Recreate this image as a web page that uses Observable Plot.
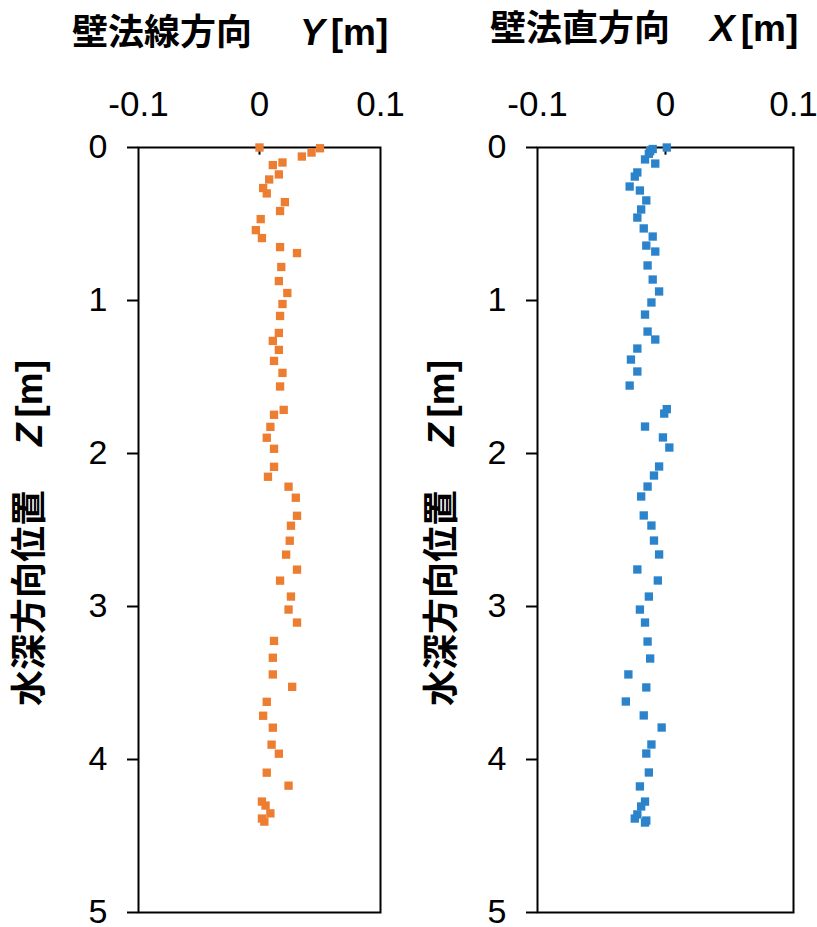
<!DOCTYPE html>
<html>
<head>
<meta charset="utf-8">
<script src="https://cdn.jsdelivr.net/npm/d3@7"></script>
<script src="https://cdn.jsdelivr.net/npm/@observablehq/plot@0.6"></script>
<style>
  html, body { margin: 0; padding: 0; background: #fff; }
  #wrap { position: relative; width: 817px; height: 927px; overflow: hidden; background: #fff; }
  .plot { position: absolute; top: 0; }
  .plot svg { overflow: visible; }
  .title { position: absolute; white-space: nowrap; font-family: "Noto Sans CJK JP", sans-serif; font-weight: bold; font-size: 36px; line-height: 38px; color: #000; }
  .lat { font-family: "Liberation Sans", Arial, sans-serif; font-weight: bold; font-size: 37px; }
  .ylab { position: absolute; white-space: nowrap; font-family: "Noto Sans CJK JP", sans-serif; font-weight: bold; font-size: 36px; line-height: 38px; transform: translate(-50%, -50%) rotate(-90deg); }
</style>
</head>
<body>
<div id="wrap">
  <div class="title" style="left:72px; top:10px;">壁法線方向<span class="lat" style="font-style:italic; margin-left:48px;">Y</span><span class="lat" style="margin-left:6px;">[m]</span></div>
  <div class="title" style="left:490px; top:6px;">壁法直方向<span class="lat" style="font-style:italic; margin-left:40px;">X</span><span class="lat" style="margin-left:6px;">[m]</span></div>
  <div class="ylab" style="left:28px; top:533px;">水深方向位置<span class="lat" style="font-style:italic; margin-left:44px;">Z</span><span class="lat" style="margin-left:6px;">[m]</span></div>
  <div class="ylab" style="left:440px; top:533px;">水深方向位置<span class="lat" style="font-style:italic; margin-left:44px;">Z</span><span class="lat" style="margin-left:6px;">[m]</span></div>
  <div id="left" class="plot" style="left:0px;"></div>
  <div id="right" class="plot" style="left:410px;"></div>
</div>
<script>
// Tick values
const xTicks = [-0.1, 0, 0.1];
const zTicks = [0, 1, 2, 3, 4, 5];

// Left panel: wall-normal direction Y [m] vs depth Z [m]
const leftZ = [0, 0.005, 0.033, 0.059, 0.098, 0.115, 0.176, 0.209, 0.265, 0.300,
  0.357, 0.415, 0.468, 0.540, 0.592, 0.651, 0.690, 0.781, 0.873, 0.951,
  1.023, 1.101, 1.212, 1.264, 1.323, 1.395, 1.473, 1.562,
  1.715, 1.747, 1.826, 1.897, 1.969, 2.087, 2.152, 2.217, 2.289, 2.407,
  2.472, 2.570, 2.661, 2.759, 2.831, 2.935, 3.020, 3.105,
  3.225, 3.335, 3.444, 3.525, 3.623, 3.714, 3.792, 3.903, 3.962, 4.086,
  4.171, 4.275, 4.301, 4.352, 4.386, 4.406];
const leftY = [0, 0.050, 0.043, 0.035, 0.019, 0.011, 0.016, 0.008, 0.003, 0.006,
  0.021, 0.017, 0.001, -0.003, 0.002, 0.017, 0.031, 0.018, 0.016, 0.023,
  0.019, 0.017, 0.016, 0.011, 0.016, 0.012, 0.019, 0.017,
  0.020, 0.012, 0.009, 0.006, 0.012, 0.012, 0.007, 0.024, 0.030, 0.031,
  0.026, 0.025, 0.022, 0.031, 0.017, 0.026, 0.024, 0.031,
  0.012, 0.011, 0.011, 0.027, 0.006, 0.003, 0.011, 0.010, 0.016, 0.006,
  0.024, 0.002, 0.005, 0.009, 0.002, 0.004];

// Right panel: wall-perpendicular direction X [m] vs depth Z [m]
const rightZ = [0, 0.010, 0.024, 0.041, 0.078, 0.105, 0.163, 0.190, 0.255, 0.281,
  0.346, 0.405, 0.458, 0.529, 0.582, 0.641, 0.680, 0.771, 0.863, 0.941,
  1.013, 1.092, 1.203, 1.255, 1.314, 1.386, 1.464, 1.556,
  1.710, 1.739, 1.824, 1.895, 1.961, 2.085, 2.144, 2.216, 2.281, 2.405,
  2.471, 2.569, 2.660, 2.758, 2.830, 2.935, 3.020, 3.105,
  3.229, 3.340, 3.444, 3.529, 3.621, 3.712, 3.791, 3.902, 3.961, 4.085,
  4.176, 4.275, 4.307, 4.359, 4.386, 4.399, 4.412];
const rightX = [0.001, -0.010, -0.012, -0.013, -0.016, -0.008, -0.022, -0.024, -0.028, -0.020,
  -0.015, -0.019, -0.022, -0.017, -0.010, -0.015, -0.008, -0.014, -0.010, -0.005,
  -0.011, -0.016, -0.014, -0.008, -0.022, -0.027, -0.022, -0.028,
  0.001, -0.001, -0.016, -0.002, 0.003, -0.005, -0.009, -0.014, -0.019, -0.017,
  -0.011, -0.009, -0.005, -0.022, -0.006, -0.013, -0.020, -0.016,
  -0.014, -0.012, -0.029, -0.015, -0.031, -0.017, -0.003, -0.011, -0.015, -0.013,
  -0.020, -0.016, -0.019, -0.022, -0.024, -0.015, -0.016];

const ORANGE = "#ED7D31";
const BLUE = "#2A83CB";

function panel(values, depths, color, width, mLeft, mRight) {
  const data = values.map((v, i) => ({v, z: depths[i]}));
  return Plot.plot({
    width, height: 927,
    marginLeft: mLeft, marginRight: mRight, marginTop: 147, marginBottom: 15,
    x: {domain: [-0.1, 0.1]},
    y: {domain: [0, 5], reverse: true},
    style: {fontFamily: "'Liberation Sans', Arial, sans-serif", fontSize: "34px", color: "#000", background: "transparent"},
    marks: [
      Plot.frame({stroke: "#000", strokeWidth: 2}),
      Plot.axisX({anchor: "top", ticks: xTicks, tickSize: 0, tickPadding: 32,
        tickFormat: d => String(d), fontSize: 35, label: null}),
      Plot.axisY({anchor: "left", ticks: zTicks, tickSize: 11, tickPadding: 20,
        tickFormat: d => String(d), fontSize: 34, strokeWidth: 2, label: null}),
      Plot.ruleX([0], {y1: 0, y2: 0.05, stroke: "#000", strokeWidth: 2}),
      Plot.dot(data, {x: "v", y: "z", symbol: "square", r: 4.7, fill: color, stroke: "none"})
    ]
  });
}

document.getElementById("left").appendChild(panel(leftY, leftZ, ORANGE, 410, 138, 30));
document.getElementById("right").appendChild(panel(rightX, rightZ, BLUE, 407, 127, 24));
</script>
</body>
</html>
